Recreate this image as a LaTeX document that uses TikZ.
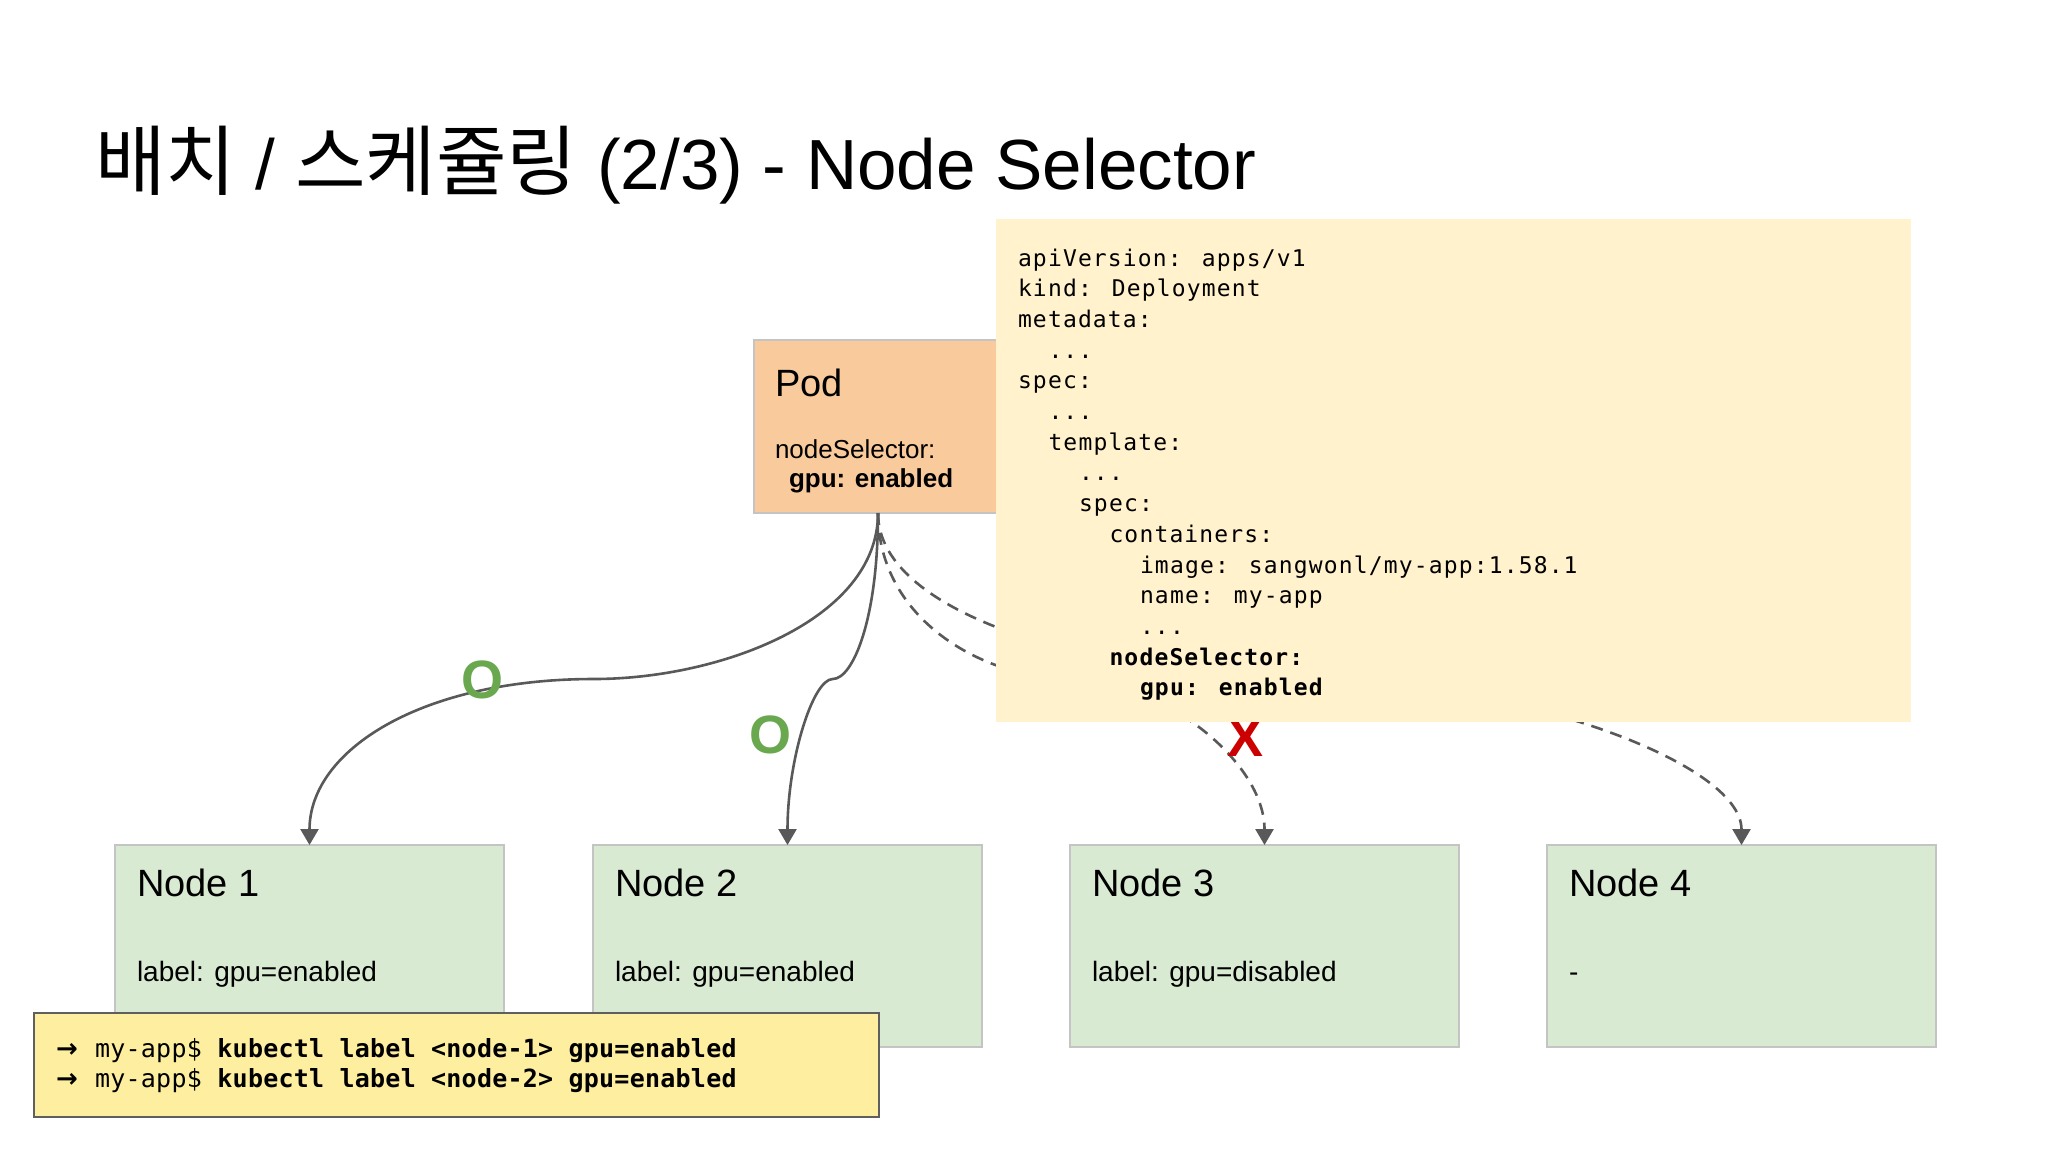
\documentclass[tikz,border=0pt]{standalone}
\usepackage{fontspec}
\setmainfont{Liberation Sans}
\newfontfamily\kr[Scale=1.08]{Noto Sans CJK KR}
\newfontfamily\yamlfont[LetterSpace=5]{DejaVu Sans Mono}
\newfontfamily\cmdfont[LetterSpace=1]{DejaVu Sans Mono}
\newfontfamily\arrowfont{DejaVu Sans}
\usetikzlibrary{arrows.meta,calc}
\definecolor{podfill}{HTML}{F9CB9C}
\definecolor{nodefill}{HTML}{D9EAD3}
\definecolor{yamlfill}{HTML}{FFF2CC}
\definecolor{cmdfill}{HTML}{FEEFA0}
\definecolor{boxline}{HTML}{C4C4C4}
\definecolor{linegray}{HTML}{595959}
\definecolor{cmdline}{HTML}{5F5F5F}
\definecolor{okgreen}{HTML}{6AA84F}
\definecolor{nored}{HTML}{CC0000}
\begin{document}
\begin{tikzpicture}[x=0.5pt,y=-0.5pt,
  box/.style={draw=boxline, line width=0.75pt, inner sep=0, outer sep=0, anchor=north west},
  nodebox/.style={box, fill=nodefill, minimum width=194.5pt, minimum height=101pt},
  txt/.style={anchor=base west, inner sep=0, outer sep=0},
  ntitle/.style={txt, font=\fontsize{19}{22}\selectfont},
  nlabel/.style={txt, font=\fontsize{14}{16}\selectfont},
  yl/.style={txt, font=\yamlfont\fontsize{11.5}{13}\selectfont},
  ylb/.style={txt, font=\yamlfont\bfseries\fontsize{11.5}{13}\selectfont},
  cl/.style={txt, font=\cmdfont\fontsize{12.5}{14}\selectfont},
  arr/.style={txt, font=\arrowfont\bfseries\fontsize{13}{14}\selectfont},
  conn/.style={draw=linegray, line width=1.3pt, -{Triangle[length=8pt,width=9pt]}},
  dconn/.style={conn, dash pattern=on 6pt off 4pt},
  okmark/.style={inner sep=0, text=okgreen, font=\bfseries\fontsize{27}{27}\selectfont},
  nomark/.style={inner sep=0, text=nored, font=\bfseries\fontsize{27}{27}\selectfont}
]
\useasboundingbox (0,0) rectangle (2048,1152);
\fill[white] (0,0) rectangle (2048,1152);

% title
\node[txt, font=\fontsize{35.5}{40}\selectfont] (title) at (95,189)
  {{\kr 배치} / {\kr 스케쥴링} (2/3) - Node Selector};

% pod
\node[box, fill=podfill, minimum width=124pt, minimum height=86.5pt] (pod) at (754,340) {};
\node[txt, font=\fontsize{19}{22}\selectfont] (podt) at (775,396) {Pod};
\node[txt, font=\fontsize{13}{15}\selectfont] (pods1) at (775,458) {nodeSelector:};
\node[txt, font=\bfseries\fontsize{13}{15}\selectfont] (pods2) at (789,487) {gpu: enabled};

% worker nodes
\node[nodebox] (n1) at (115,845) {};
\node[nodebox] (n2) at (593,845) {};
\node[nodebox] (n3) at (1070,845) {};
\node[nodebox] (n4) at (1547,845) {};
\node[ntitle] (n1t) at (137,896) {Node 1};
\node[ntitle] (n2t) at (615,896) {Node 2};
\node[ntitle] (n3t) at (1092,896) {Node 3};
\node[ntitle] (n4t) at (1569,896) {Node 4};
\node[nlabel] (n1l) at (137,981) {label: gpu=enabled};
\node[nlabel] (n2l) at (615,981) {label: gpu=enabled};
\node[nlabel] (n3l) at (1092,981) {label: gpu=disabled};
\node[nlabel] (n4l) at (1569,981) {-};

% connectors
\coordinate (m1) at ($(pod.south)!0.5!(n1.north)$);
\coordinate (m2) at ($(pod.south)!0.5!(n2.north)$);
\coordinate (m3) at ($(pod.south)!0.5!(n3.north)$);
\coordinate (m4) at ($(pod.south)!0.5!(n4.north)$);
\draw[conn] (pod.south) .. controls +(0,107) and +(126,0) .. (m1)
  .. controls +(-172,0) and +(0,-95) .. (n1.north);
\draw[conn] (pod.south) .. controls +(0,107) and +(20,0) .. (m2)
  .. controls +(-20,0) and +(0,-85) .. (n2.north);
\draw[dconn] (pod.south) .. controls +(0,107) and +(-87,0) .. (m3)
  .. controls +(87,0) and +(0,-85) .. (n3.north);
\draw[dconn] (pod.south) .. controls +(0,107) and +(-194,0) .. (m4)
  .. controls +(194,0) and +(0,-85) .. (n4.north);

\node[okmark] (o1) at (482,680) {O};
\node[okmark] (o2) at (770,735) {O};
\node[nomark] (x3) at (1245,738) {X};

% yaml box
\node[box, draw=none, fill=yamlfill, minimum width=457.5pt, minimum height=251.5pt] (yaml) at (996,219) {};
\node[yl] (y0) at (1018,266) {apiVersion: apps/v1};
\node[yl] (y1) at (1018,296.7) {kind: Deployment};
\node[yl] (y2) at (1018,327.4) {metadata:};
\node[yl] (y3) at (1048.5,358.1) {...};
\node[yl] (y4) at (1018,388.8) {spec:};
\node[yl] (y5) at (1048.5,419.5) {...};
\node[yl] (y6) at (1048.5,450.2) {template:};
\node[yl] (y7) at (1079,480.9) {...};
\node[yl] (y8) at (1079,511.6) {spec:};
\node[yl] (y9) at (1109.5,542.3) {containers:};
\node[yl] (y10) at (1140,573) {image: sangwonl/my-app:1.58.1};
\node[yl] (y11) at (1140,603.7) {name: my-app};
\node[yl] (y12) at (1140,634.4) {...};
\node[ylb] (y13) at (1109.5,665.1) {nodeSelector:};
\node[ylb] (y14) at (1140,695.8) {gpu: enabled};

% command box
\node[box, draw=cmdline, line width=1pt, fill=cmdfill, minimum width=422.5pt, minimum height=52pt] (cmd) at (34,1013) {};
\node[arr] (a1) at (56,1057) {→};
\node[arr] (a2) at (56,1087) {→};
\node[cl] (c1) at (95,1057) {my-app\$ \textbf{kubectl label <node-1> gpu=enabled}};
\node[cl] (c2) at (95,1087) {my-app\$ \textbf{kubectl label <node-2> gpu=enabled}};
\end{tikzpicture}
\end{document}
